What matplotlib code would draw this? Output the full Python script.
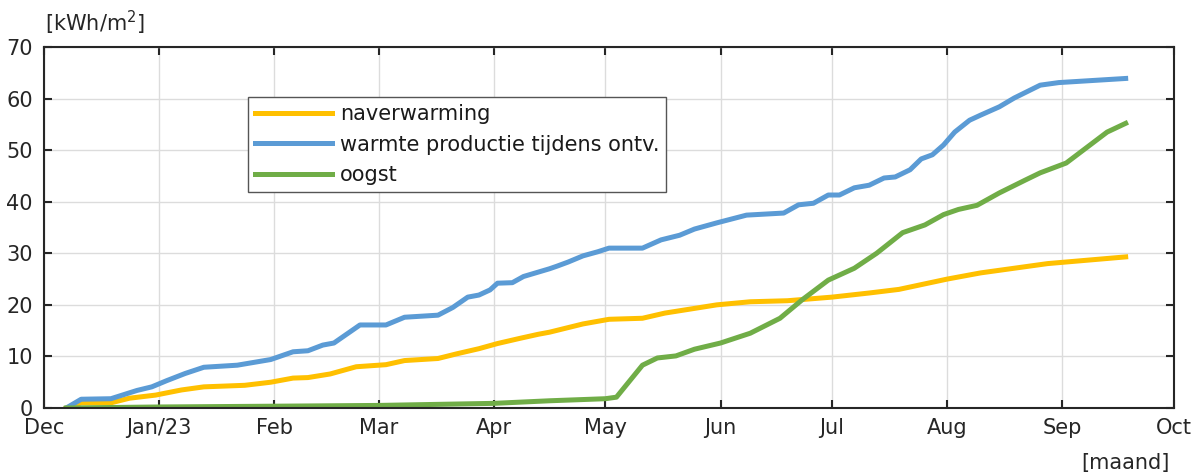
import numpy as np
import pandas as pd
import matplotlib
matplotlib.use("Agg")
import matplotlib.pyplot as plt

# naverwarming
naverwarming_dates = ["2022-12-07", "2022-12-11", "2022-12-19", "2022-12-24", "2022-12-31",
                      "2023-01-07", "2023-01-13", "2023-01-24", "2023-01-31", "2023-02-06",
                      "2023-02-10", "2023-02-16", "2023-02-23", "2023-03-03", "2023-03-08",
                      "2023-03-17", "2023-03-22", "2023-03-28", "2023-04-02", "2023-04-08",
                      "2023-04-13", "2023-04-16", "2023-04-25", "2023-05-02", "2023-05-11",
                      "2023-05-17", "2023-05-31", "2023-06-09", "2023-06-19", "2023-07-01",
                      "2023-07-11", "2023-07-19", "2023-08-01", "2023-08-10", "2023-08-28",
                      "2023-09-18"]
naverwarming = [0.0, 1.0, 1.0, 1.9, 2.5,
                3.5, 4.1, 4.4, 5.0, 5.8,
                5.9, 6.6, 8.0, 8.4, 9.2,
                9.6, 10.5, 11.5, 12.5, 13.5,
                14.3, 14.7, 16.3, 17.2, 17.4,
                18.4, 20.0, 20.6, 20.8, 21.5,
                22.3, 23.0, 25.0, 26.2, 28.0,
                29.3]

# warmte productie tijdens ontv.
warmte_dates = ["2022-12-07", "2022-12-11", "2022-12-19", "2022-12-26", "2022-12-30",
                "2023-01-03", "2023-01-08", "2023-01-13", "2023-01-22", "2023-01-31",
                "2023-02-06", "2023-02-10", "2023-02-14", "2023-02-17", "2023-02-24",
                "2023-03-03", "2023-03-08", "2023-03-17", "2023-03-21", "2023-03-25",
                "2023-03-28", "2023-03-31", "2023-04-02", "2023-04-06", "2023-04-09",
                "2023-04-16", "2023-04-18", "2023-04-21", "2023-04-25", "2023-04-29",
                "2023-05-02", "2023-05-11", "2023-05-16", "2023-05-21", "2023-05-25",
                "2023-05-31", "2023-06-08", "2023-06-18", "2023-06-22", "2023-06-26",
                "2023-06-30", "2023-07-03", "2023-07-07", "2023-07-11", "2023-07-15",
                "2023-07-18", "2023-07-22", "2023-07-25", "2023-07-28", "2023-07-31",
                "2023-08-03", "2023-08-07", "2023-08-10", "2023-08-15", "2023-08-19",
                "2023-08-26", "2023-08-31", "2023-09-18"]
warmte = [0.0, 1.7, 1.8, 3.4, 4.1,
          5.3, 6.7, 7.9, 8.3, 9.4,
          10.9, 11.1, 12.2, 12.6, 16.1,
          16.1, 17.6, 18.0, 19.5, 21.5,
          21.9, 22.9, 24.2, 24.3, 25.5,
          27.0, 27.5, 28.3, 29.5, 30.3,
          31.0, 31.0, 32.6, 33.5, 34.7,
          35.9, 37.4, 37.8, 39.4, 39.7,
          41.3, 41.3, 42.7, 43.2, 44.6,
          44.8, 46.2, 48.3, 49.1, 51.0,
          53.5, 55.8, 56.8, 58.4, 60.1,
          62.6, 63.1, 63.9]

# oogst
oogst_dates = ["2022-12-07", "2023-01-01", "2023-02-01", "2023-03-01", "2023-04-01",
               "2023-04-16", "2023-05-01", "2023-05-04", "2023-05-11", "2023-05-15",
               "2023-05-20", "2023-05-25", "2023-06-01", "2023-06-09", "2023-06-17",
               "2023-06-23", "2023-06-30", "2023-07-07", "2023-07-13", "2023-07-20",
               "2023-07-26", "2023-07-31", "2023-08-04", "2023-08-09", "2023-08-15",
               "2023-08-22", "2023-08-26", "2023-09-02", "2023-09-13", "2023-09-18"]
oogst = [0.0, 0.2, 0.35, 0.5, 0.9,
         1.4, 1.8, 2.1, 8.3, 9.7,
         10.1, 11.4, 12.6, 14.5, 17.4,
         21.0, 24.8, 27.1, 30.0, 34.0,
         35.5, 37.5, 38.5, 39.3, 41.7,
         44.2, 45.6, 47.5, 53.5, 55.2]

month_ticks = pd.date_range("2022-12-01", "2023-10-01", freq="MS")
month_labels = ["Dec", "Jan/23", "Feb", "Mar", "Apr", "May", "Jun", "Jul", "Aug", "Sep", "Oct"]
y_ticks = [0, 10, 20, 30, 40, 50, 60, 70]

plt.rcParams["font.family"] = ["DejaVu Sans"]
fs = 15

fig = plt.figure(figsize=(11.93, 4.75), dpi=100)
ax = fig.add_axes([44 / 1193, 67 / 475, 1130 / 1193, 361 / 475])

ax.plot(pd.to_datetime(naverwarming_dates), naverwarming, color="#FFC000", lw=3.6,
        label="naverwarming")
ax.plot(pd.to_datetime(warmte_dates), warmte, color="#5B9BD5", lw=3.6,
        label="warmte productie tijdens ontv.")
ax.plot(pd.to_datetime(oogst_dates), oogst, color="#70AD47", lw=3.6,
        label="oogst")

ax.set_xlim(month_ticks[0], month_ticks[-1])
ax.set_ylim(0, 70)
ax.set_xticks(month_ticks)
ax.set_xticklabels(month_labels)
ax.set_yticks(y_ticks)

ax.grid(True, color="#dcdcdc", lw=1.0)
ax.set_axisbelow(True)
for s in ax.spines.values():
    s.set_color("#262626")
    s.set_linewidth(1.5)
ax.tick_params(direction="in", length=6, width=1.5, color="#262626",
               top=True, right=True, labelsize=fs, labelcolor="#262626")
ax.tick_params(axis="x", pad=7)
ax.tick_params(axis="y", pad=8)

leg = ax.legend(loc="upper left", bbox_to_anchor=(204 / 1130, 311 / 361),
                borderaxespad=0, fancybox=False, framealpha=1,
                edgecolor="#555555", handlelength=3.7, handletextpad=0.35,
                borderpad=0.35, labelspacing=0.5, fontsize=fs)
leg.get_frame().set_linewidth(1.0)
for t in leg.get_texts():
    t.set_color("#1a1a1a")

fig.text(45 / 1193, 1 - 23 / 475, "[kWh/m$^2$]", fontsize=fs, color="#262626",
         ha="left", va="center")
fig.text(1170 / 1193, 1 - 463 / 475, "[maand]", fontsize=fs, color="#262626",
         ha="right", va="center")

fig.savefig("out.png", dpi=100)
